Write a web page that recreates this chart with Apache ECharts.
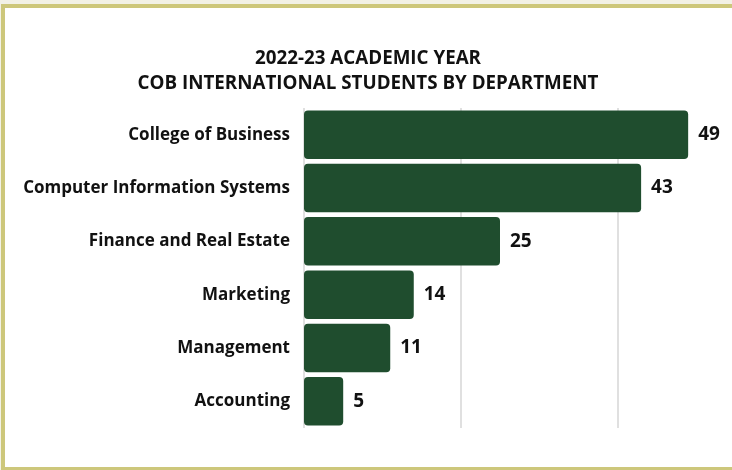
<!DOCTYPE html>
<html>
<head>
<meta charset="utf-8">
<script src="https://cdn.jsdelivr.net/npm/echarts@6/dist/echarts.min.js"></script>
<style>
  html, body { margin: 0; padding: 0; width: 732px; height: 470px; overflow: hidden; background: #f2f1e6; position: relative; }
  #frame { position: absolute; left: 1px; top: 4px; width: 760px; height: 467px; box-sizing: border-box;
           border: 4px solid #cdc77b; border-right: none; background: #ffffff; }
  #chart { position: absolute; left: 0; top: 0; width: 800px; height: 470px; }
</style>
</head>
<body>
<div id="frame"></div>
<div id="chart"></div>
<script>
const titleLines = ['2022-23 ACADEMIC YEAR', 'COB INTERNATIONAL STUDENTS BY DEPARTMENT'];
const categories = ['College of Business', 'Computer Information Systems', 'Finance and Real Estate', 'Marketing', 'Management', 'Accounting'];
const values = [49, 43, 25, 14, 11, 5];
const axisMin = 0, axisMax = 60, axisStep = 20;

const chart = echarts.init(document.getElementById('chart'), null, { renderer: 'canvas' });
chart.setOption({
  backgroundColor: 'transparent',
  animation: false,
  title: {
    text: titleLines.join('\n'),
    left: 363, top: 41, textAlign: 'center',
    textStyle: { fontFamily: 'Open Sans', fontWeight: 700, fontSize: 18.8, color: '#111111', lineHeight: 25 }
  },
  grid: { left: 304, top: 108, width: 470.4, height: 320, containLabel: false },
  xAxis: {
    type: 'value', min: axisMin, max: axisMax, interval: axisStep,
    axisLabel: { show: false }, axisLine: { show: false }, axisTick: { show: false },
    splitLine: { show: true, lineStyle: { color: '#d6d6d6', width: 1.5 } }
  },
  yAxis: {
    type: 'category', data: categories, inverse: true,
    axisLine: { show: false }, axisTick: { show: false },
    axisLabel: { margin: 14, fontFamily: 'Open Sans', fontWeight: 700, fontSize: 17, color: '#111111' }
  },
  series: [{
    type: 'bar', data: values, barCategoryGap: '9%',
    itemStyle: { color: '#1f4d2e', borderRadius: 4 },
    label: { show: true, position: 'right', distance: 10, fontFamily: 'Open Sans', fontWeight: 700, fontSize: 19, color: '#111111' }
  }]
});
</script>
</body>
</html>
